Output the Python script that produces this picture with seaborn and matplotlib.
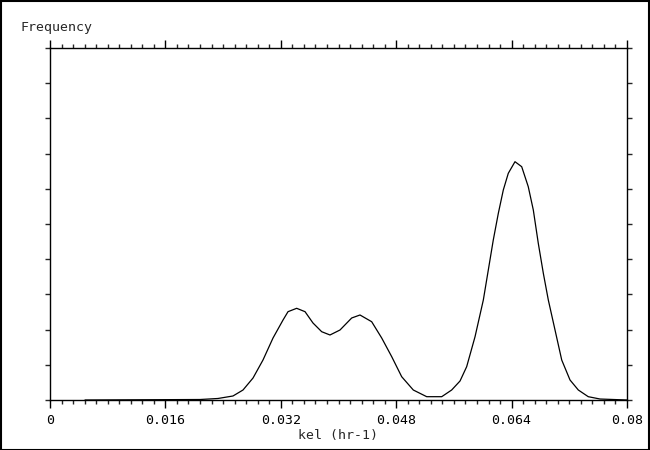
import matplotlib
matplotlib.use("Agg")
import matplotlib.pyplot as plt
import numpy as np
import pandas as pd
import seaborn as sb
from matplotlib.ticker import MultipleLocator, FixedLocator, FixedFormatter

# kel values (hr-1) and relative frequency
kel = [0.00485, 0.02080, 0.02329, 0.02537, 0.02676, 0.02815, 0.02953, 0.03092,
       0.03231, 0.03300, 0.03420, 0.03536, 0.03646, 0.03767, 0.03882, 0.04021,
       0.04183, 0.04298, 0.04460, 0.04599, 0.04738, 0.04876, 0.05037, 0.05223,
       0.05431, 0.05569, 0.05685, 0.05777, 0.05893, 0.06008, 0.06077, 0.06146,
       0.06216, 0.06285, 0.06354, 0.06447, 0.06540, 0.06631, 0.06701, 0.06770,
       0.06840, 0.06909, 0.07002, 0.07095, 0.07210, 0.07325, 0.07463, 0.07626,
       0.08000]
freq = [0.0, 0.014, 0.043, 0.114, 0.284, 0.625, 1.136, 1.761,
        2.273, 2.509, 2.605, 2.509, 2.188, 1.940, 1.847, 1.989,
        2.330, 2.415, 2.224, 1.761, 1.230, 0.662, 0.284, 0.094,
        0.094, 0.284, 0.540, 0.946, 1.798, 2.841, 3.693, 4.545,
        5.304, 5.966, 6.440, 6.770, 6.628, 6.060, 5.398, 4.452,
        3.599, 2.841, 1.989, 1.136, 0.568, 0.284, 0.094, 0.028,
        0.0]

xticks = [0, 0.016, 0.032, 0.048, 0.064, 0.08]
xtick_labels = ['0', '0.016', '0.032', '0.048', '0.064', '0.08']

df = pd.DataFrame({'kel': kel, 'freq': freq})

sb.set_style('white')
plt.rcParams['font.family'] = ['DejaVu Sans Mono']
plt.rcParams['font.size'] = 9.5

fig = plt.figure(figsize=(6.5, 4.5), dpi=100)
ax = fig.add_axes([50/650, 50/450, 577/650, 352/450])

sb.lineplot(data=df, x='kel', y='freq', color='black', linewidth=0.9,
            estimator=None, sort=False, ax=ax)

ax.set_xlim(0, 0.08)
ax.set_ylim(0, 10)
ax.xaxis.set_major_locator(FixedLocator(xticks))
ax.xaxis.set_major_formatter(FixedFormatter(xtick_labels))
ax.xaxis.set_minor_locator(MultipleLocator(0.0016))
ax.yaxis.set_major_locator(MultipleLocator(1))
ax.set_yticklabels([])

for s in ax.spines.values():
    s.set_visible(True)
    s.set_color('black')
    s.set_linewidth(1.0)

ax.tick_params(axis='x', which='major', direction='out', length=5.8, width=1,
               top=True, bottom=True, pad=4, labelsize=9.5, colors='black')
ax.tick_params(axis='x', which='minor', direction='out', length=2.9, width=1,
               top=True, bottom=True)
ax.tick_params(axis='y', which='major', direction='out', length=3.6, width=1,
               left=True, right=True, labelleft=False)

ax.set_xlabel('kel (hr-1)', fontsize=9.5, labelpad=1.5)
ax.set_ylabel('')
fig.text(20/650, 1 - 28/450, 'Frequency', fontsize=9.5, ha='left', va='center')

# border around the whole picture
fig.patches.append(plt.Rectangle((0.001, 0.001), 0.997, 0.997, transform=fig.transFigure,
                                 fill=False, edgecolor='black', linewidth=1.5))

fig.savefig('out.png', dpi=100)
